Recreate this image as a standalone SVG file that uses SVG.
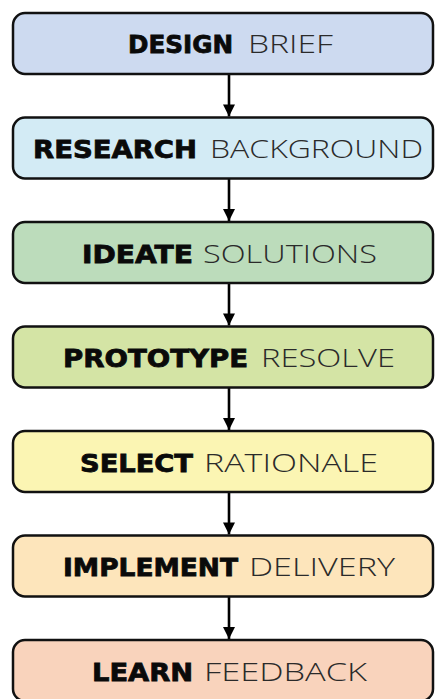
<svg xmlns="http://www.w3.org/2000/svg" width="435" height="699" viewBox="0 0 435 699">
<style>
.box{stroke:#111;stroke-width:2.5}
.b{font-family:"DejaVu Sans","Liberation Sans",sans-serif;font-weight:bold;font-size:25px;fill:#0a0a0a;stroke:#0a0a0a;stroke-width:0.8}
.r{font-family:"Open Sans","DejaVu Sans",sans-serif;font-weight:300;font-size:25px;fill:#2a2a2a}
.conn{stroke:#000;stroke-width:2.6;fill:none}
</style>
<defs>
<marker id="ah" viewBox="0 0 10 10" refX="10" refY="5" markerUnits="userSpaceOnUse" markerWidth="13" markerHeight="12" orient="auto">
<path d="M0,0 L10,5 L0,10 z" fill="#000"/>
</marker>
</defs>
<rect width="435" height="699" fill="#fff"/>
<g id="connectors">
<line class="conn" x1="229" y1="74" x2="229" y2="116.5" marker-end="url(#ah)"/>
<line class="conn" x1="229" y1="178.5" x2="229" y2="221" marker-end="url(#ah)"/>
<line class="conn" x1="229" y1="283" x2="229" y2="325.5" marker-end="url(#ah)"/>
<line class="conn" x1="229" y1="387.5" x2="229" y2="430" marker-end="url(#ah)"/>
<line class="conn" x1="229" y1="492" x2="229" y2="534.5" marker-end="url(#ah)"/>
<line class="conn" x1="229" y1="596.5" x2="229" y2="639" marker-end="url(#ah)"/>
</g>
<g id="n1">
<rect class="box" x="13" y="13" width="420" height="61" rx="12" fill="#cddaf0"/>
<text class="b" x="128" y="53" textLength="105" lengthAdjust="spacingAndGlyphs">DESIGN</text>
<text class="r" x="248" y="53" textLength="85" lengthAdjust="spacingAndGlyphs">BRIEF</text>
</g>
<g id="n2">
<rect class="box" x="13" y="117.5" width="420" height="61" rx="12" fill="#d3ebf5"/>
<text class="b" x="33" y="158" textLength="164" lengthAdjust="spacingAndGlyphs">RESEARCH</text>
<text class="r" x="210" y="158" textLength="213" lengthAdjust="spacingAndGlyphs">BACKGROUND</text>
</g>
<g id="n3">
<rect class="box" x="13" y="222" width="420" height="61" rx="12" fill="#bcdcbb"/>
<text class="b" x="82" y="263" textLength="111" lengthAdjust="spacingAndGlyphs">IDEATE</text>
<text class="r" x="203" y="263" textLength="174" lengthAdjust="spacingAndGlyphs">SOLUTIONS</text>
</g>
<g id="n4">
<rect class="box" x="13" y="326.5" width="420" height="61" rx="12" fill="#d4e4a5"/>
<text class="b" x="63" y="367" textLength="185" lengthAdjust="spacingAndGlyphs">PROTOTYPE</text>
<text class="r" x="261" y="367" textLength="134" lengthAdjust="spacingAndGlyphs">RESOLVE</text>
</g>
<g id="n5">
<rect class="box" x="13" y="431" width="420" height="61" rx="12" fill="#fbf5b3"/>
<text class="b" x="80" y="472" textLength="113" lengthAdjust="spacingAndGlyphs">SELECT</text>
<text class="r" x="204" y="472" textLength="174" lengthAdjust="spacingAndGlyphs">RATIONALE</text>
</g>
<g id="n6">
<rect class="box" x="13" y="535.5" width="420" height="61" rx="12" fill="#fde5bb"/>
<text class="b" x="63" y="576" textLength="175" lengthAdjust="spacingAndGlyphs">IMPLEMENT</text>
<text class="r" x="249" y="576" textLength="146" lengthAdjust="spacingAndGlyphs">DELIVERY</text>
</g>
<g id="n7">
<rect class="box" x="13" y="640" width="420" height="61" rx="12" fill="#f9d3bc"/>
<text class="b" x="92" y="681" textLength="101" lengthAdjust="spacingAndGlyphs">LEARN</text>
<text class="r" x="204" y="681" textLength="163" lengthAdjust="spacingAndGlyphs">FEEDBACK</text>
</g>
</svg>
